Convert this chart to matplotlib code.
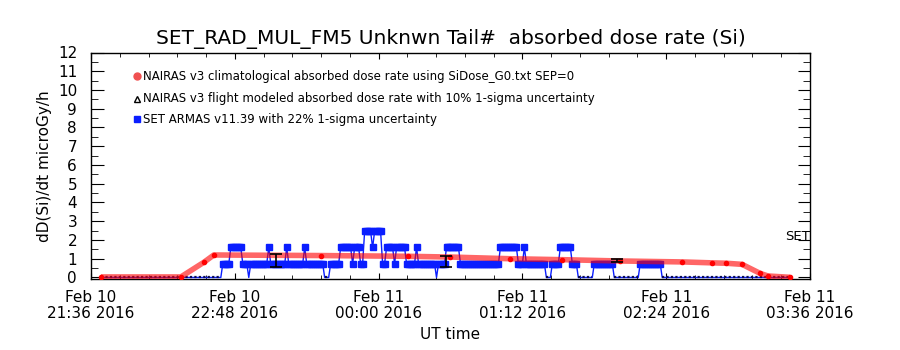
import numpy as np
import matplotlib
matplotlib.use("Agg")
import matplotlib.pyplot as plt
from matplotlib.ticker import MultipleLocator

plt.rcParams['font.family'] = ['DejaVu Sans']

title = "SET_RAD_MUL_FM5 Unknwn Tail#  absorbed dose rate (Si)"
ylabel = "dD(Si)/dt microGy/h"
xlabel = "UT time"
legend_labels = [
    "NAIRAS v3 climatological absorbed dose rate using SiDose_G0.txt SEP=0",
    "NAIRAS v3 flight modeled absorbed dose rate with 10% 1-sigma uncertainty",
    "SET ARMAS v11.39 with 22% 1-sigma uncertainty",
]
# x axis: minutes after Feb 10 21:36 UT
xtick_minutes = [0, 72, 144, 216, 288, 360]
xtick_labels = ["Feb 10\n21:36 2016", "Feb 10\n22:48 2016", "Feb 11\n00:00 2016",
                "Feb 11\n01:12 2016", "Feb 11\n02:24 2016", "Feb 11\n03:36 2016"]

# NAIRAS climatological (red)
clim_t = [5, 45, 56.5, 61.5, 115, 158.5, 180, 210, 236, 265, 296, 311, 318, 326, 335, 339, 350]
clim_v = [0.03, 0.03, 0.81, 1.20, 1.17, 1.13, 1.09, 1.00, 0.95, 0.88, 0.83, 0.78, 0.76, 0.70, 0.22, 0.08, 0.01]

# NAIRAS flight modeled (black) with error bars
flight_t = [92.5, 177.5, 263.5]
flight_v = [0.90, 0.87, 0.90]
flight_err = [0.35, 0.30, 0.09]

# SET ARMAS (blue): run-length encoded 1-minute samples starting at minute 5
set_start = 5
set_levels = [0, 0.74, 1.6, 0.74, 0, 0.74, 1.6, 0.74, 1.6, 0.74, 1.6, 0.74, 0,
              0.74, 1.6, 0.74, 1.6, 0.74, 2.46, 1.6, 2.46, 0.74, 1.6, 0.74, 1.6,
              0.74, 1.6, 0.74, 0, 0.74, 1.6, 0.74, 1.6, 0.74, 1.6, 0.74, 0,
              0.74, 1.6, 0.74, 0, 0.74, 0, 0.74, 0]
set_runs = [61, 4, 6, 3, 1, 9, 1, 8, 1, 8, 1, 9, 3,
            5, 6, 1, 3, 2, 4, 1, 4, 2, 4, 1, 5,
            5, 1, 9, 1, 4, 7, 20, 9, 3, 1, 10, 3,
            4, 6, 3, 8, 10, 13, 11, 65]

set_v = np.repeat(set_levels, set_runs)
set_t = set_start + np.arange(len(set_v))

fig = plt.figure(figsize=(9, 3.5), dpi=100)
ax = fig.add_axes([0.1011, 0.2029, 0.7989, 0.6471])

blue = '#0a1eff'
# SET line (thin) and markers for nonzero samples
ax.plot(set_t, set_v, color=blue, lw=1.0, zorder=3)
zero = np.where(set_v == 0, 0.0, np.nan)
ax.plot(set_t, zero, color='#0c0c50', lw=1.6, ls=(0, (1, 1)), zorder=3.5)
nz = set_v > 0
ax.plot(set_t[nz], set_v[nz], ls='none', marker='s', ms=4.6, color=blue, mec=blue, zorder=4)

# red climatological band
ax.plot(clim_t, clim_v, color='red', lw=4, alpha=0.6, solid_capstyle='butt', zorder=5)
ax.plot(clim_t, clim_v, ls='none', marker='o', ms=3, color='red', zorder=6)

# black flight modeled error bars
ax.errorbar(flight_t, flight_v, yerr=flight_err, fmt='none', ecolor='black',
            elinewidth=1.2, capsize=4, capthick=1.2, zorder=7)

ax.set_xlim(xtick_minutes[0], xtick_minutes[-1])
ax.set_ylim(-0.08, 12)
ax.set_xticks(xtick_minutes)
ax.set_xticklabels(xtick_labels, fontsize=11, linespacing=1.1)
ax.xaxis.set_minor_locator(MultipleLocator(14.4))
ax.set_yticks(range(0, 13))
ax.set_yticklabels([str(i) for i in range(0, 13)], fontsize=11)
ax.yaxis.set_minor_locator(MultipleLocator(0.5))
ax.tick_params(axis='both', which='both', direction='in', top=True, right=True,
               labelright=False, labeltop=False)
ax.tick_params(axis='x', which='major', length=4, pad=8)
ax.tick_params(axis='x', which='minor', length=3)
ax.tick_params(axis='y', which='major', length=9, pad=10)
ax.tick_params(axis='y', which='minor', length=5)
for s in ax.spines.values():
    s.set_linewidth(1)

ax.set_title(title, fontsize=14.5, pad=6)
ax.set_ylabel(ylabel, fontsize=11, labelpad=4)
ax.set_xlabel(xlabel, fontsize=11, labelpad=4)

ax.text(360, 2.16, "SET", ha='right', va='center', fontsize=9.5, zorder=8)

# legend (manual, IDL style)
leg_y = [0.896, 0.795, 0.706]
ax.plot([0.064], [leg_y[0]], transform=ax.transAxes, marker='o', ms=5, color='#f05050',
        ls='none', clip_on=False)
ax.plot([0.064], [leg_y[1]], transform=ax.transAxes, marker='^', ms=5, mfc='none',
        mec='black', ls='none', clip_on=False)
ax.plot([0.064], [leg_y[2]], transform=ax.transAxes, marker='s', ms=5, color=blue,
        ls='none', clip_on=False)
for y, lab in zip(leg_y, legend_labels):
    ax.text(0.072, y, lab, transform=ax.transAxes, fontsize=8.5, va='center', ha='left')

fig.savefig("out.png", dpi=100)
